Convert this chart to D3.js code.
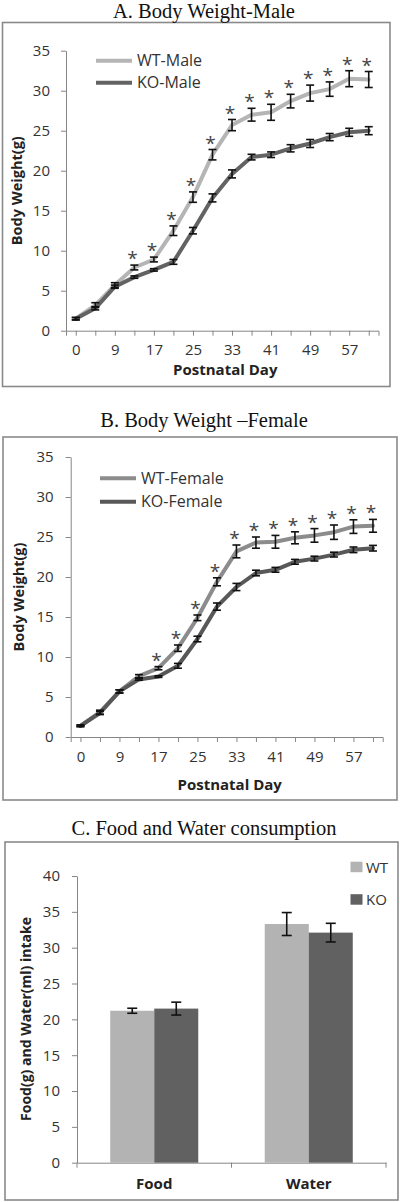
<!DOCTYPE html>
<html>
<head>
<meta charset="utf-8">
<script src="https://cdn.jsdelivr.net/npm/d3@7"></script>
<style>
  html, body { margin: 0; padding: 0; background: #fff; }
  svg { display: block; }
</style>
</head>
<body>
<svg id="chart" width="400" height="1202"></svg>
<script>
// ---------- DATA ----------
const days = ["0","5","9","13","17","21","25","29","33","37","41","45","49","53","57","61"];
const yTicksWeight = [0,5,10,15,20,25,30,35];

const wtMale     = [1.5,3.2,5.7,7.9,8.9,12.5,16.7,22.0,25.7,27.0,27.3,28.7,29.7,30.2,31.5,31.4];
const wtMaleErr  = [0.15,0.3,0.3,0.3,0.3,0.6,0.65,0.65,0.7,0.8,1.0,0.85,1.0,0.9,1.0,1.0];
const koMale     = [1.5,2.8,5.5,6.7,7.6,8.6,12.5,16.6,19.6,21.7,22.0,22.8,23.4,24.2,24.8,25.0];
const koMaleErr  = [0.15,0.2,0.2,0.15,0.15,0.3,0.4,0.5,0.5,0.35,0.35,0.45,0.5,0.45,0.5,0.5];
const maleSig    = [0,0,0,1,1,1,1,1,1,1,1,1,1,1,1,1];

const wtFemale    = [1.4,3.1,5.7,7.6,8.6,11.1,14.9,19.4,23.2,24.3,24.4,24.9,25.2,25.6,26.3,26.4];
const wtFemaleErr = [0.1,0.25,0.2,0.2,0.2,0.4,0.35,0.5,0.8,0.7,0.8,0.75,0.85,0.9,0.85,0.8];
const koFemale    = [1.4,3.0,5.7,7.2,7.55,8.9,12.25,16.3,18.75,20.5,20.9,21.9,22.3,22.8,23.4,23.6];
const koFemaleErr = [0.1,0.2,0.2,0.1,0.1,0.3,0.35,0.45,0.45,0.35,0.3,0.3,0.3,0.3,0.35,0.35];
const femaleSig   = [0,0,0,0,1,1,1,1,1,1,1,1,1,1,1,1];

const intakeCats  = ["Food","Water"];
const groups      = ["WT","KO"];
const wtIntake    = [21.2,33.3];
const wtIntakeErr = [0.35,1.6];
const koIntake    = [21.5,32.1];
const koIntakeErr = [0.9,1.3];
const yTicksIntake = [0,5,10,15,20,25,30,35,40];

// ---------- STYLE ----------
const SANS = "'Open Sans', 'Liberation Sans', Arial, sans-serif";
const SERIF = "'Liberation Serif', 'Times New Roman', serif";
const AXIS = "#868686";
const FRAME = "#8a8a8a";

const svg = d3.select("#chart");

function frame(x, y, w, h) {
  svg.append("rect").attr("x", x).attr("y", y).attr("width", w).attr("height", h)
    .attr("fill", "none").attr("stroke", FRAME).attr("stroke-width", 1.6);
}
function title(text, cx, baseline) {
  svg.append("text").attr("x", cx).attr("y", baseline).attr("text-anchor", "middle")
    .attr("font-family", SERIF).attr("font-size", 20.5).attr("fill", "#111").text(text);
}
function styleAxis(g) {
  g.selectAll("path,line").attr("stroke", AXIS).attr("stroke-width", 1);
  g.selectAll("text").attr("font-family", SANS).attr("font-size", 15).attr("fill", "#333");
}

function linePanel(cfg) {
  frame(...cfg.frame);
  title(cfg.title, 204, cfg.titleY);

  const x = d3.scalePoint().domain(days).range(cfg.xRange).padding(0.5);
  const y = d3.scaleLinear().domain([0, 35]).range(cfg.yRange);

  const gy = svg.append("g").attr("transform", `translate(${cfg.xRange[0]},0)`)
    .call(d3.axisLeft(y).tickValues(yTicksWeight).tickSize(5).tickSizeOuter(0).tickPadding(cfg.yPad));
  styleAxis(gy);
  const gx = svg.append("g").attr("transform", `translate(0,${cfg.yRange[0]})`)
    .call(d3.axisBottom(x).tickSize(5).tickSizeOuter(5).tickPadding(9)
      .tickFormat((d, i) => i % 2 === 0 ? d : ""));
  styleAxis(gx);

  // axis titles
  svg.append("text").attr("x", (cfg.xRange[0] + cfg.xRange[1]) / 2 + 3).attr("y", cfg.xTitleY)
    .attr("text-anchor", "middle").attr("font-family", SANS).attr("font-weight", "bold")
    .attr("font-size", 15).attr("fill", "#222").text("Postnatal Day");
  svg.append("text")
    .attr("transform", `translate(${cfg.yTitleX},${(cfg.yRange[0] + cfg.yRange[1]) / 2}) rotate(-90)`)
    .attr("text-anchor", "middle").attr("font-family", SANS).attr("font-weight", "bold")
    .attr("font-size", 14.5).attr("fill", "#222").text("Body Weight(g)");

  const line = d3.line().x((d, i) => x(days[i])).y(d => y(d));
  cfg.series.forEach(s => {
    svg.append("path").datum(s.values).attr("d", line).attr("fill", "none")
      .attr("stroke", s.color).attr("stroke-width", 4).attr("stroke-linejoin", "round")
      .attr("stroke-linecap", "round");
  });
  cfg.series.forEach(s => {
    const g = svg.append("g").attr("stroke", "#111").attr("stroke-width", 1.6).attr("fill", "none");
    s.values.forEach((v, i) => {
      const cx = x(days[i]), e = s.err[i];
      const y1 = y(v + e), y2 = y(v - e);
      g.append("line").attr("x1", cx).attr("x2", cx).attr("y1", y1).attr("y2", y2);
      g.append("line").attr("x1", cx - 4).attr("x2", cx + 4).attr("y1", y1).attr("y2", y1);
      g.append("line").attr("x1", cx - 4).attr("x2", cx + 4).attr("y1", y2).attr("y2", y2);
    });
  });
  // significance stars
  const top = cfg.series[0];
  cfg.sig.forEach((flag, i) => {
    if (!flag) return;
    svg.append("text").attr("x", x(days[i]) - 2).attr("y", y(top.values[i] + top.err[i]) - 11 + 11)
      .attr("text-anchor", "middle").attr("font-family", SANS).attr("font-size", 19)
      .attr("fill", "#444").text("*");
  });
  // legend
  cfg.series.forEach((s, k) => {
    const ly = cfg.legend.y + k * cfg.legend.dy;
    svg.append("line").attr("x1", cfg.legend.x).attr("x2", cfg.legend.x + 36)
      .attr("y1", ly).attr("y2", ly).attr("stroke", s.color).attr("stroke-width", 4);
    svg.append("text").attr("x", cfg.legend.x + 41).attr("y", ly + 5.5)
      .attr("font-family", SANS).attr("font-size", 16).attr("fill", "#333").text(s.name);
  });
}

linePanel({
  frame: [2.5, 22.5, 387.5, 364], title: "A. Body Weight-Male", titleY: 18,
  xRange: [66, 378.5], yRange: [330.7, 50.7], yPad: 11,
  xTitleY: 375, yTitleX: 22,
  series: [
    { name: "WT-Male", values: wtMale, err: wtMaleErr, color: "#b5b5b5" },
    { name: "KO-Male", values: koMale, err: koMaleErr, color: "#636363" }
  ],
  sig: maleSig,
  legend: { x: 96, y: 60.7, dy: 22 }
});

linePanel({
  frame: [3, 437, 394, 363], title: "B. Body Weight \u2013Female", titleY: 427,
  xRange: [70.7, 382.7], yRange: [737, 457], yPad: 12,
  xTitleY: 790, yTitleX: 24,
  series: [
    { name: "WT-Female", values: wtFemale, err: wtFemaleErr, color: "#8c8c8c" },
    { name: "KO-Female", values: koFemale, err: koFemaleErr, color: "#585858" }
  ],
  sig: femaleSig,
  legend: { x: 100, y: 478.3, dy: 23.4 }
});

// ---------- Panel C ----------
(function () {
  frame(5, 842, 393, 358);
  title("C. Food and Water consumption", 204, 835);

  const x = d3.scaleBand().domain(intakeCats).range([77, 386]).padding(0);
  const xi = d3.scaleBand().domain(groups).range([0, x.bandwidth()]).paddingInner(0).paddingOuter(0.755);
  const y = d3.scaleLinear().domain([0, 40]).range([1162.7, 876]);
  const colors = { WT: "#b3b3b3", KO: "#616161" };

  const gy = svg.append("g").attr("transform", "translate(77,0)")
    .call(d3.axisLeft(y).tickValues(yTicksIntake).tickSize(5).tickSizeOuter(0).tickPadding(12));
  styleAxis(gy);
  const gx = svg.append("g").attr("transform", "translate(0,1162.7)")
    .call(d3.axisBottom(x).tickSize(0).tickSizeOuter(0).tickPadding(16));
  styleAxis(gx);
  gx.selectAll("text").attr("font-weight", "bold").attr("fill", "#222");
  d3.range(intakeCats.length + 1).forEach(i => {
    const tx = x.range()[0] + i * x.step();
    gx.append("line").attr("x1", tx).attr("x2", tx).attr("y1", 0).attr("y2", 5)
      .attr("stroke", AXIS);
  });

  svg.append("text").attr("transform", "translate(31,1019) rotate(-90)")
    .attr("text-anchor", "middle").attr("font-family", SANS).attr("font-weight", "bold")
    .attr("font-size", 14).attr("fill", "#222").text("Food(g) and Water(ml) intake");

  const data = { WT: [wtIntake, wtIntakeErr], KO: [koIntake, koIntakeErr] };
  groups.forEach(gname => {
    const [vals, errs] = data[gname];
    vals.forEach((v, i) => {
      const bx = x(intakeCats[i]) + xi(gname);
      svg.append("rect").attr("x", bx).attr("y", y(v)).attr("width", xi.bandwidth())
        .attr("height", y(0) - y(v)).attr("fill", colors[gname]);
    });
  });
  groups.forEach(gname => {
    const [vals, errs] = data[gname];
    vals.forEach((v, i) => {
      const cx = x(intakeCats[i]) + xi(gname) + xi.bandwidth() / 2;
      const y1 = y(v + errs[i]), y2 = y(v - errs[i]);
      const g = svg.append("g").attr("stroke", "#111").attr("stroke-width", 1.6);
      g.append("line").attr("x1", cx).attr("x2", cx).attr("y1", y1).attr("y2", y2);
      g.append("line").attr("x1", cx - 5).attr("x2", cx + 5).attr("y1", y1).attr("y2", y1);
      g.append("line").attr("x1", cx - 5).attr("x2", cx + 5).attr("y1", y2).attr("y2", y2);
    });
  });
  groups.forEach((gname, k) => {
    const ly = 861.7 + k * 32.5;
    svg.append("rect").attr("x", 350.5).attr("y", ly).attr("width", 12).attr("height", 10.5)
      .attr("fill", colors[gname]);
    svg.append("text").attr("x", 366).attr("y", ly + 11).attr("font-family", SANS)
      .attr("font-size", 15).attr("fill", "#333").text(gname);
  });
})();
</script>
</body>
</html>
